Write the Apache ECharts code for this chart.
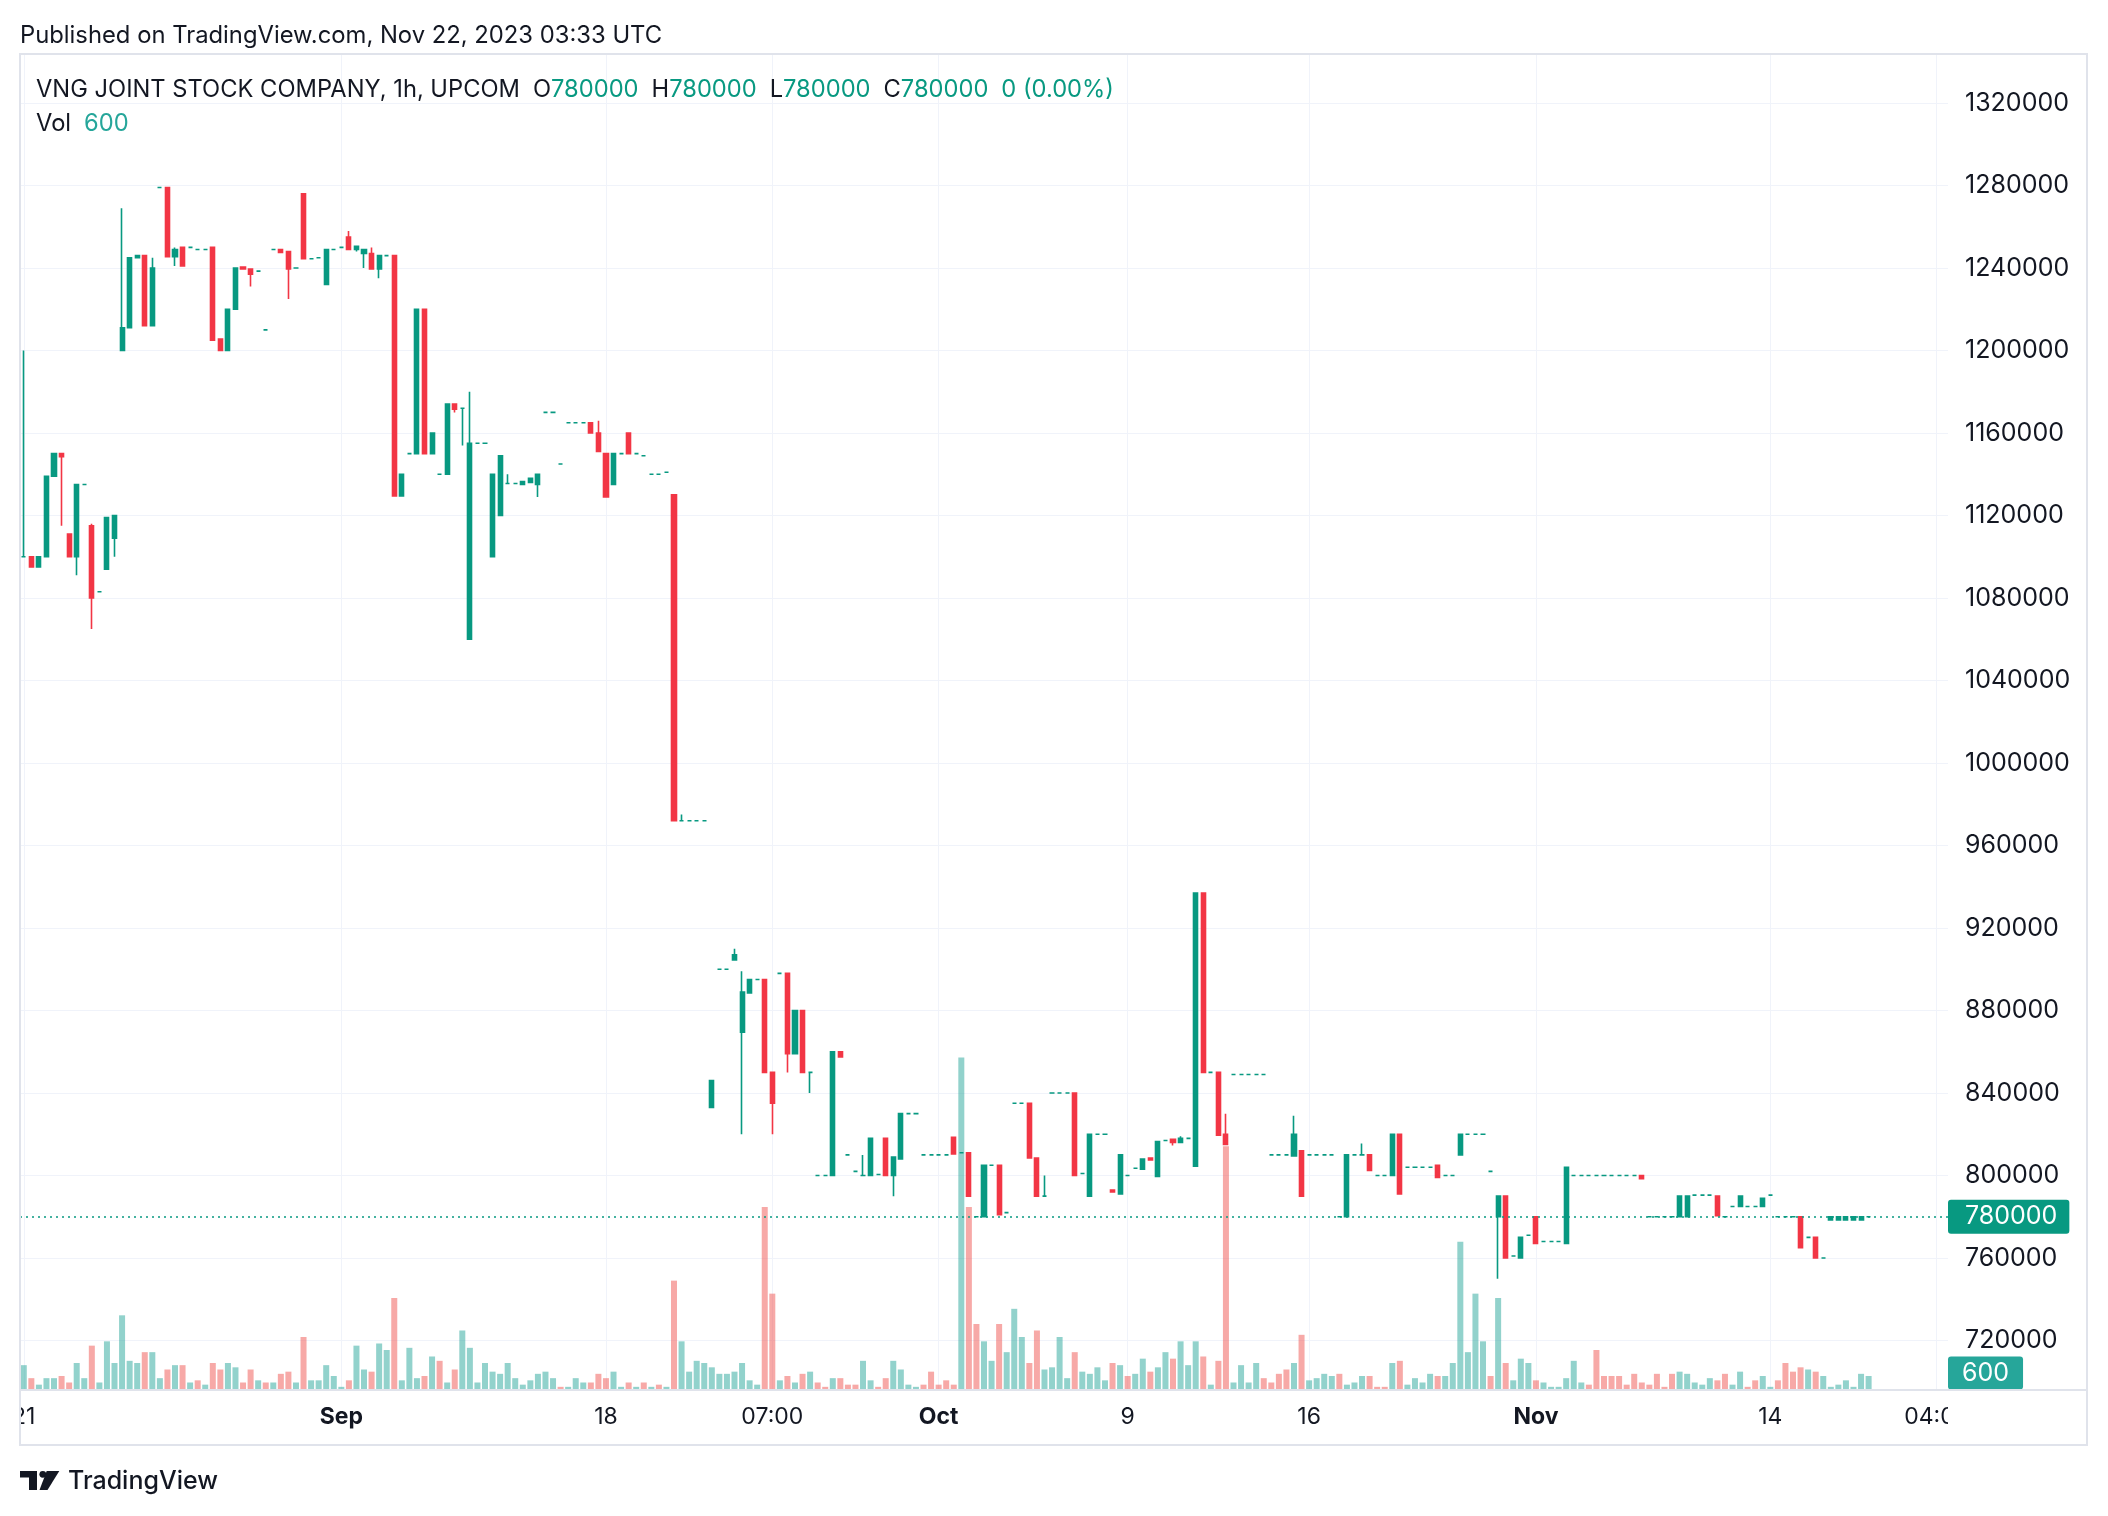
<!DOCTYPE html>
<html><head><meta charset="utf-8">
<script src="https://cdn.jsdelivr.net/npm/echarts@6/dist/echarts.min.js"></script>
<style>html,body{margin:0;padding:0;background:#fff;}#c{width:2108px;height:1516px;}</style>
</head><body><div id="c"></div>
<script>
// ---------- DATA ----------
const opens = [
1100000,1100000,1095000,1100000,1139000,1150000,1111000,1100000,1135000,1115000,
1083000,1094000,1109000,1200000,1211000,1245000,1246000,1212000,1279000,1279000,
1245500,1250000,1250000,1249000,1249000,1250000,1205500,1200000,1220000,1240500,
1239500,1238500,1210000,1249000,1249000,1248000,1240000,1276000,1244500,1245000,
1232000,1249000,1250000,1255000,1249000,1247000,1247000,1239500,1246000,1246000,
1129500,1150000,1150000,1220000,1150000,1140000,1140000,1174000,1172000,1060000,
1155000,1155000,1100000,1120000,1135500,1135500,1135000,1136000,1135000,1170000,
1170000,1145000,1165000,1165000,1165000,1165000,1160000,1150000,1135000,1150000,
1160000,1150000,1149000,1140000,1140000,1141000,1130000,972000,972000,972000,
972000,833000,900000,900000,904500,869500,888500,895000,895000,850000,
898000,898000,859000,880000,850000,800000,800000,800000,860000,810000,
802000,800000,800000,800500,818000,800000,808000,830000,830000,810000,
810000,810000,810000,818500,811000,811000,780000,780000,805000,805000,
782000,835000,835000,835000,808500,790000,840000,840000,840000,840000,
801000,790000,820000,820000,793000,791000,800000,803500,803000,808500,
799500,817000,817500,816000,818000,804500,937000,850000,850000,820000,
849000,849000,849000,849000,849000,810000,810000,810000,809500,812000,
810000,810000,810000,810000,780000,780000,810000,810000,810000,800000,
800000,800000,820000,804000,804000,804000,804000,805000,800000,800000,
810000,820000,820000,820000,802000,780000,790000,761000,760000,771000,
780000,768000,768000,768000,767000,800000,800000,800000,800000,800000,
800000,800000,800000,800000,800000,780000,780000,780000,780000,780000,
780000,790500,790500,790500,790000,780000,785000,785000,785000,785000,
785000,790500,780000,780000,780000,780000,770000,770000,760000,778500,
778500,778500,778500,778500,780000];
const closes = [
1100000,1095000,1100000,1139000,1150000,1148500,1100000,1135000,1135000,1080000,
1083000,1119000,1120000,1211000,1245000,1246000,1212000,1240000,1279000,1245500,
1249000,1241000,1250000,1249000,1249000,1205000,1200000,1220000,1240000,1239500,
1237000,1238500,1210000,1249000,1247500,1239500,1240000,1244500,1244500,1245000,
1249000,1249000,1250000,1249000,1250500,1249000,1239500,1246000,1246000,1129500,
1140000,1150000,1220000,1150000,1160000,1140000,1174000,1171500,1172000,1155000,
1155000,1155000,1140000,1149000,1135500,1135500,1136500,1138000,1140000,1170000,
1170000,1145000,1165000,1165000,1165000,1160000,1151000,1129000,1150000,1150000,
1150000,1150000,1149000,1140000,1140000,1141000,972000,972000,972000,972000,
972000,846000,900000,900000,907000,889000,895000,895000,850000,835000,
898000,859000,880000,850000,850000,800000,800000,860000,857500,810000,
802000,800000,818000,800500,800000,809000,830000,830000,830000,810000,
810000,810000,810000,810500,811000,790000,780000,805000,805000,781000,
782000,835000,835000,808500,790000,790000,840000,840000,840000,800000,
801000,820000,820000,820000,792000,810000,800000,803500,808000,807500,
816500,817000,816000,818000,818000,937000,850000,850000,819500,815000,
849000,849000,849000,849000,849000,810000,810000,810000,820000,790000,
810000,810000,810000,810000,780000,810000,810000,810000,802500,800000,
800000,820000,791000,804000,804000,804000,804000,799000,800000,800000,
820000,820000,820000,820000,802000,790000,760000,761000,770000,771000,
767000,768000,768000,768000,804000,800000,800000,800000,800000,800000,
800000,800000,800000,800000,798500,780000,780000,780000,780000,790000,
790000,790500,790500,790500,780500,780000,785000,790000,785000,785000,
789000,790500,780000,780000,780000,765000,770000,760000,760000,780000,
780000,780000,780000,780000,780000];
const lows = [
1100000,1095000,1095000,1100000,1139000,1115000,1100000,1091000,1135000,1065000,
1083000,1094000,1100000,1200000,1211000,1245000,1212000,1212000,1279000,1245500,
1241000,1241000,1250000,1249000,1249000,1205000,1200000,1200000,1220000,1239500,
1231000,1238500,1210000,1249000,1247500,1225000,1240000,1244500,1244500,1245000,
1232000,1249000,1250000,1249000,1248000,1240000,1239500,1235000,1246000,1129500,
1129500,1150000,1150000,1150000,1150000,1140000,1140000,1170000,1154000,1060000,
1155000,1155000,1100000,1120000,1135500,1135500,1135000,1136000,1129000,1170000,
1170000,1145000,1165000,1165000,1165000,1160000,1151000,1129000,1135000,1150000,
1150000,1150000,1149000,1140000,1140000,1141000,972000,972000,972000,972000,
972000,833000,900000,900000,904500,820000,888500,895000,850000,820000,
898000,850000,859000,850000,840000,800000,800000,800000,857500,810000,
802000,800000,800000,800500,800000,790000,808000,830000,830000,810000,
810000,810000,810000,810500,811000,790000,780000,780000,805000,781000,
782000,835000,835000,808500,790000,790000,840000,840000,840000,800000,
801000,790000,820000,820000,792000,791000,800000,803500,803000,807500,
799500,817000,814500,816000,818000,804500,850000,850000,819500,815000,
849000,849000,849000,849000,849000,810000,810000,810000,809500,790000,
810000,810000,810000,810000,780000,780000,810000,810000,802500,800000,
800000,800000,791000,804000,804000,804000,804000,799000,800000,800000,
810000,820000,820000,820000,802000,750000,760000,761000,760000,771000,
767000,768000,768000,768000,767000,800000,800000,800000,800000,800000,
800000,800000,800000,800000,798500,780000,780000,780000,780000,780000,
780000,790500,790500,790500,780500,780000,785000,785000,785000,785000,
785000,790500,780000,780000,780000,765000,770000,760000,760000,778500,
778500,778500,778500,778500,780000];
const highs = [
1200000,1100000,1100000,1139000,1150000,1150000,1111000,1135000,1135000,1116000,
1083000,1119000,1120000,1269000,1245000,1246000,1246000,1245000,1279000,1279000,
1250000,1250000,1250000,1249000,1249000,1250000,1205500,1220000,1240000,1240500,
1239500,1238500,1210000,1249000,1249000,1248000,1240000,1276000,1244500,1245000,
1249000,1249000,1250000,1258000,1250500,1249000,1250000,1246000,1246000,1246000,
1140000,1150000,1220000,1220000,1160000,1140000,1174000,1174000,1172000,1180000,
1155000,1155000,1140000,1149000,1140000,1135500,1136500,1138000,1140000,1170000,
1170000,1145000,1165000,1165000,1165000,1165000,1166000,1150000,1150000,1150000,
1160000,1150000,1149000,1140000,1140000,1141000,1130000,975000,972000,972000,
972000,846000,900000,900000,910000,899000,895000,895000,895000,850000,
898000,898000,880000,880000,850000,800000,800000,860000,860000,810000,
802000,810000,818000,800500,818000,809000,830000,830000,830000,810000,
810000,810000,810000,818500,811000,811000,780000,805000,805000,805000,
782000,835000,835000,835000,808500,800000,840000,840000,840000,840000,
801000,820000,820000,820000,793000,810000,800000,803500,808000,808500,
816500,817000,817500,819000,818000,937000,937000,850000,850000,830000,
849000,849000,849000,849000,849000,810000,810000,810000,829000,812000,
810000,810000,810000,810000,780000,810000,810000,815500,810000,800000,
800000,820000,820000,804000,804000,804000,804000,805000,800000,800000,
820000,820000,820000,820000,802000,790000,790000,761000,770000,771000,
780000,768000,768000,768000,804000,800000,800000,800000,800000,800000,
800000,800000,800000,800000,800000,780000,780000,780000,780000,790000,
790000,790500,790500,790500,790000,780000,785000,790000,785000,785000,
789000,790500,780000,780000,780000,780000,770000,770000,760000,780000,
780000,780000,780000,780000,780000];
const volumes = [
1100,500,200,500,500,600,300,1200,500,2000,
300,2200,1200,3400,1300,1200,1700,1700,500,900,
1100,1100,300,400,200,1200,900,1200,1000,300,
900,400,300,300,700,800,300,2400,400,400,
1100,600,100,400,2000,900,800,2100,1800,4200,
400,1900,500,600,1500,1300,300,900,2700,1900,
300,1200,800,700,1200,500,200,400,700,800,
500,100,100,500,300,300,700,500,800,100,
300,100,300,100,200,100,5000,2200,800,1300,
1200,1000,700,700,800,1200,400,200,8400,4400,
400,600,300,700,800,300,100,500,500,200,
200,1300,400,100,500,1300,900,200,100,200,
800,200,400,200,15300,8400,3000,2200,1300,3000,
1700,3700,2400,1200,2700,900,1000,2400,500,1700,
800,700,1000,400,1200,1100,600,700,1400,800,
1000,1700,1400,2200,1100,2200,1500,200,1300,11200,
300,1100,300,1200,500,300,700,900,1200,2500,
400,500,700,600,700,200,300,600,600,100,
100,1200,1300,200,500,300,700,600,600,1200,
6800,1700,4400,2200,600,4200,1200,400,1400,1200,
400,300,100,100,500,1300,300,200,1800,600,
600,600,200,700,300,200,700,100,700,800,
700,300,200,500,400,700,200,800,100,400,
600,100,400,1200,800,1000,900,800,600,100,
200,400,100,700,600];
// volume bar direction as drawn: g = up colour, r = down colour
const volDir = [
"grgggrrggr","ggggggrggr","grgrgrrggr","rgrgrrgrgg","gggrggrggr",
"gggrgrgrgg","gggggggggg","grgggrrrgg","rgrgrgrggg","ggggggggrr",
"grgrgrrgrr","rggrrggggr","rrrrgrrggr","gggrrggggr","ggggrgrggr",
"ggrgggrgrr","ggggrrrrgr","ggggrgggrr","rgrggggrgg","ggggrgrggg",
"rggggggrrr","rrrrrrrrrg","ggggrrggrr","ggrrrrgrgg","ggggg"].join('');
const tickIdx  = [0, 42, 77, 99, 121, 146, 170, 200, 231, 253];
const tickText = ['21', 'Sep', '18', '07:00', 'Oct', '9', '16', 'Nov', '14', '04:00'];
const boldTicks = ['Sep', 'Oct', 'Nov'];
const slotCount = 255;
const symbolName = 'VNG JOINT STOCK COMPANY, 1h, UPCOM';
const publishedText = 'Published on TradingView.com, Nov 22, 2023 03:33 UTC';

// ---------- CHECKS ----------
[closes, lows, highs, volumes].forEach((a, k) => {
  if (a.length !== opens.length) throw new Error('length mismatch ' + k + ': ' + a.length + ' vs ' + opens.length);
});
if (volDir.length !== opens.length) throw new Error('volDir length ' + volDir.length);

// ---------- STYLE ----------
const UP = '#089981', DOWN = '#f23645';
const VUP = 'rgba(38,166,154,0.5)', VDOWN = 'rgba(239,83,80,0.5)';
const TXT = '#131722', GRID = '#f0f3fa', FRAME = '#e0e3eb';
const FONT = 'Inter, "Noto Sans", sans-serif';
const FS = 23;     // time labels
const FSY = 25;    // price scale labels
const FSH = 23.8;  // header
const FSL = 23.7;  // legend

const slots = Array.from({length: slotCount}, (_, i) => i);
const candleData = opens.map((o, i) => {
  const item = {value: [o, closes[i], lows[i], highs[i]]};
  if (o === closes[i]) item.itemStyle = {color: UP, color0: UP, borderColor: UP, borderColor0: UP};
  return item;
});
const volData = volumes.map((v, i) => ({
  value: v, itemStyle: {color: volDir[i] === 'g' ? VUP : VDOWN}
}));
const n = opens.length;
const lastO = opens[n-1], lastH = highs[n-1], lastL = lows[n-1], lastC = closes[n-1];
const chg = lastC - closes[n-2];
const chgPct = (chg / closes[n-2] * 100).toFixed(2);
const lastVol = volumes[n-1];

// layout
const PL = 20, PW = 1928;          // plot left / width (pitch = PW / slotCount)
const pitch = PW / slotCount;

const chart = echarts.init(document.getElementById('c'), null, {renderer: 'canvas'});
chart.setOption({
  animation: false,
  backgroundColor: '#ffffff',
  textStyle: {fontFamily: FONT},
  grid: [
    {left: PL, width: PW, top: 20.5, height: 1402.5},            // price
    {left: PL, width: PW, top: 1000, height: 389},               // volume
    {left: PL + pitch / 2, width: PW - pitch, top: 54, height: 1336} // time labels + vertical grid
  ],
  xAxis: [
    {gridIndex: 0, type: 'category', data: slots, boundaryGap: true,
     axisLine: {show: false}, axisTick: {show: false}, axisLabel: {show: false}, splitLine: {show: false}},
    {gridIndex: 1, type: 'category', data: slots, boundaryGap: true,
     axisLine: {show: false}, axisTick: {show: false}, axisLabel: {show: false}, splitLine: {show: false}},
    {gridIndex: 2, type: 'category', data: slots, boundaryGap: false,
     axisLine: {show: false}, axisTick: {show: false},
     axisLabel: {
       interval: (idx) => tickIdx.includes(idx),
       margin: 16, fontSize: FS, color: TXT, fontFamily: FONT,
       formatter: (val, idx) => {
         const k = tickIdx.indexOf(Number(val));
         if (k < 0) return '';
         const t = tickText[k];
         return boldTicks.includes(t) ? '{b|' + t + '}' : t;
       },
       rich: {b: {fontWeight: 'bold', fontSize: FS, color: TXT, fontFamily: FONT}}
     },
     splitLine: {show: true, interval: (idx) => tickIdx.includes(idx), lineStyle: {color: GRID, width: 1}}}
  ],
  yAxis: [
    {gridIndex: 0, type: 'value', position: 'right', min: 680000, max: 1360000, interval: 40000,
     axisLine: {show: false}, axisTick: {show: false},
     axisLabel: {margin: 17, fontSize: FSY, color: TXT, fontFamily: FONT,
                 showMinLabel: false, showMaxLabel: false, formatter: (v) => String(v)},
     splitLine: {show: true, showMinLine: false, showMaxLine: false, lineStyle: {color: GRID, width: 1}}},
    {gridIndex: 1, type: 'value', min: 0, max: 17950, show: false, splitLine: {show: false}},
    {gridIndex: 2, type: 'value', show: false, splitLine: {show: false}}
  ],
  series: [
    {
      type: 'bar', name: 'Vol', xAxisIndex: 1, yAxisIndex: 1, data: volData,
      barWidth: 6, z: 1,
      markLine: {
        silent: true, symbol: 'none', animation: false,
        lineStyle: {color: 'rgba(0,0,0,0)', width: 0.01, type: 'solid'},
        label: {show: true, position: 'end', distance: 0, formatter: String(lastVol),
                backgroundColor: '#26a69a', color: '#ffffff', fontSize: FSY, fontFamily: FONT,
                padding: [3, 14, 3, 14], lineHeight: 27, borderRadius: 3, offset: [0, -3]},
        data: [{yAxis: lastVol}]
      }
    },
    {
      type: 'candlestick', name: 'VNG', xAxisIndex: 0, yAxisIndex: 0, data: candleData,
      barWidth: 4.6, z: 3,
      itemStyle: {color: UP, color0: DOWN, borderColor: UP, borderColor0: DOWN, borderWidth: 1.6},
      markLine: {
        silent: true, symbol: 'none', animation: false,
        lineStyle: {color: UP, width: 1.6, type: [2, 4], opacity: 1},
        label: {position: 'end', distance: 0, formatter: String(lastC),
                backgroundColor: UP, color: '#ffffff', fontSize: FSY, fontFamily: FONT,
                padding: [3, 12, 3, 17], lineHeight: 28, borderRadius: 3},
        data: [{yAxis: lastC}]
      }
    }
  ],
  graphic: [
    // covers for clipped time labels
    {type: 'rect', z: 100, shape: {x: 0, y: 1392, width: 19, height: 52}, style: {fill: '#ffffff'}},
    {type: 'rect', z: 100, shape: {x: 1948, y: 1392, width: 138, height: 52}, style: {fill: '#ffffff'}},
    // chart frame
    {type: 'rect', z: 101, shape: {x: 20, y: 54, width: 2067, height: 1391},
     style: {fill: 'none', stroke: FRAME, lineWidth: 2}},
    {type: 'line', z: 101, shape: {x1: 20, y1: 1390, x2: 2087, y2: 1390},
     style: {stroke: FRAME, lineWidth: 2}},
    // header
    {type: 'text', z: 102, x: 20, y: 36,
     style: {text: publishedText, fill: TXT, font: '400 ' + FSH + 'px ' + FONT, verticalAlign: 'middle'}},
    // legend line
    {type: 'text', z: 102, x: 36, y: 90,
     style: {
       text: '{k|' + symbolName + '}{s| }{k|O}{g|' + lastO + '}{s| }{k|H}{g|' + lastH + '}{s| }{k|L}{g|' + lastL +
             '}{s| }{k|C}{g|' + lastC + '}{s| }{g|' + chg + ' (' + chgPct + '%)}',
       verticalAlign: 'middle', font: '400 ' + FSL + 'px ' + FONT,
       rich: {
         k: {fill: TXT, fontSize: FSL, fontFamily: FONT},
         g: {fill: UP, fontSize: FSL, fontFamily: FONT},
         s: {width: 13, fontSize: FSL}
       }
     }},
    {type: 'text', z: 102, x: 36, y: 124,
     style: {
       text: '{k|Vol}{s| }{g|' + lastVol + '}', verticalAlign: 'middle', font: '400 ' + FSL + 'px ' + FONT,
       rich: {
         k: {fill: TXT, fontSize: FSL, fontFamily: FONT},
         g: {fill: '#26a69a', fontSize: FSL, fontFamily: FONT},
         s: {width: 13, fontSize: FSL}
       }
     }},
    // TradingView logo
    {type: 'rect', z: 102, shape: {x: 20, y: 1471, width: 17, height: 6.5}, style: {fill: TXT}},
    {type: 'rect', z: 102, shape: {x: 29, y: 1471, width: 8, height: 19}, style: {fill: TXT}},
    {type: 'circle', z: 102, shape: {cx: 42.8, cy: 1474.3, r: 3.4}, style: {fill: TXT}},
    {type: 'polygon', z: 102, shape: {points: [[46.7, 1471], [59.3, 1471], [47.5, 1490], [39.5, 1490]]}, style: {fill: TXT}},
    {type: 'text', z: 102, x: 68, y: 1481,
     style: {text: 'TradingView', fill: TXT, font: '500 25px ' + FONT, verticalAlign: 'middle'}}
  ]
});
</script>
</body></html>
